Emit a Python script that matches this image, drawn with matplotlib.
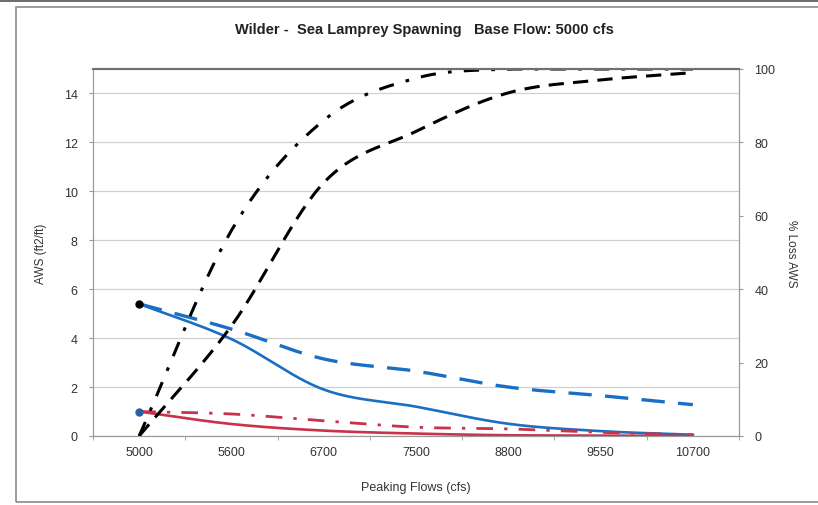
import numpy as np
import matplotlib
matplotlib.use("Agg")
from matplotlib import pyplot as plt
from matplotlib.patches import Rectangle

flows = ['5000', '5600', '6700', '7500', '8800', '9550', '10700']

# AWS (ft2/ft), left axis
blue_solid = [5.4, 3.96, 1.9, 1.2, 0.5, 0.2, 0.05]
blue_dash = [5.4, 4.37, 3.15, 2.65, 2.0, 1.65, 1.28]
red_solid = [1.0, 0.49, 0.22, 0.1, 0.03, 0.02, 0.0]
red_dashdot = [1.0, 0.9, 0.62, 0.36, 0.29, 0.15, 0.05]

# % Loss AWS, right axis
loss_dashdot = [0, 56, 86, 97.5, 100, 100, 100]
loss_dash = [0, 30, 69, 83, 93.5, 97, 99]


def smooth(y, n=30):
    # catmull-rom curve through the points, like excel's smoothed line
    x = np.arange(len(y), dtype=float)
    y = np.asarray(y, dtype=float)
    px = np.concatenate(([2 * x[0] - x[1]], x, [2 * x[-1] - x[-2]]))
    py = np.concatenate(([2 * y[0] - y[1]], y, [2 * y[-1] - y[-2]]))
    xs, ys = [], []
    for i in range(1, len(px) - 2):
        t = np.linspace(0, 1, n, endpoint=False)
        for p, out in ((px, xs), (py, ys)):
            p0, p1, p2, p3 = p[i - 1], p[i], p[i + 1], p[i + 2]
            out.extend(0.5 * (2 * p1 + (-p0 + p2) * t + (2 * p0 - 5 * p1 + 4 * p2 - p3) * t ** 2
                              + (-p0 + 3 * p1 - 3 * p2 + p3) * t ** 3))
    xs.append(x[-1])
    ys.append(y[-1])
    return np.array(xs), np.array(ys)


plt.rcParams['font.family'] = ['Liberation Sans', 'DejaVu Sans']

fig = plt.figure(figsize=(8.18, 5.06), dpi=100)
fig.patches.append(Rectangle((16 / 818, 3 / 506), 1.2, 495 / 506, transform=fig.transFigure,
                             fill=False, edgecolor='#8a8a8a', lw=1.2))
fig.patches.append(Rectangle((0, 1 - 3 / 506), 1, 3 / 506, transform=fig.transFigure,
                             color='#6e6e6e', lw=0))

ax = fig.add_axes([93 / 818, 69 / 506, 646 / 818, 367 / 506])
ax2 = ax.twinx()

blue = '#1a6fc4'
red = '#c8324a'

sx, sy = smooth(blue_solid)
ax.plot(sx, sy, color=blue, lw=1.9)
sx, sy = smooth(blue_dash)
ax.plot(sx, sy, color=blue, lw=2.4, dashes=(7, 4))
sx, sy = smooth(red_solid)
ax.plot(sx, np.clip(sy, 0, None), color=red, lw=1.9)
sx, sy = smooth(red_dashdot)
ax.plot(sx, sy, color=red, lw=2.0, dashes=(6, 4, 1.2, 4))
ax.plot([0], [blue_solid[0]], 'o', color='black', ms=5)
ax.plot([0], [red_solid[0]], 'o', color='#2a5f9e', ms=5)

sx, sy = smooth(loss_dashdot)
ax2.plot(sx, np.clip(sy, 0, 100), color='black', lw=2.2, dashes=(5, 4, 1.2, 4))
sx, sy = smooth(loss_dash)
ax2.plot(sx, np.clip(sy, 0, 100), color='black', lw=2.2, dashes=(5, 3))

ax.set_xlim(-0.5, 6.5)
ax.set_ylim(0, 15)
ax2.set_ylim(0, 100)
ax.set_yticks(range(0, 15, 2))
ax2.set_yticks(range(0, 101, 20))
ax.set_xticks(range(len(flows)))
ax.set_xticklabels(flows)
ax.set_xticks(np.arange(-0.5, 7, 1), minor=True)
ax.tick_params(axis='x', which='major', length=0, pad=7, labelsize=9, colors='#333333')
ax.tick_params(axis='x', which='minor', length=3, color='#999999')
ax.tick_params(axis='y', length=3, color='#999999', labelsize=9, labelcolor='#333333', pad=8)
ax2.tick_params(axis='y', length=3, color='#999999', labelsize=9, labelcolor='#333333', pad=8)

ax.grid(axis='y', color='#d0d0d0', lw=0.9)
ax.set_axisbelow(True)
for a in (ax, ax2):
    for s in ('left', 'right', 'bottom'):
        a.spines[s].set_color('#9a9a9a')
    a.spines['top'].set_color('#707070')
    a.spines['top'].set_linewidth(1.5)

ax.set_ylabel('AWS (ft2/ft)', fontsize=8.5, color='#333333', labelpad=12)
ax2.set_ylabel('% Loss AWS', fontsize=8.5, color='#333333', rotation=270, labelpad=16)
ax.set_xlabel('Peaking Flows (cfs)', fontsize=9, color='#333333', labelpad=17)

fig.text(424 / 818, 1 - 30 / 506, 'Wilder -  Sea Lamprey Spawning   Base Flow: 5000 cfs',
         ha='center', va='center', fontsize=10.5, fontweight='bold', color='#222222')

fig.savefig('out.png', dpi=100)
